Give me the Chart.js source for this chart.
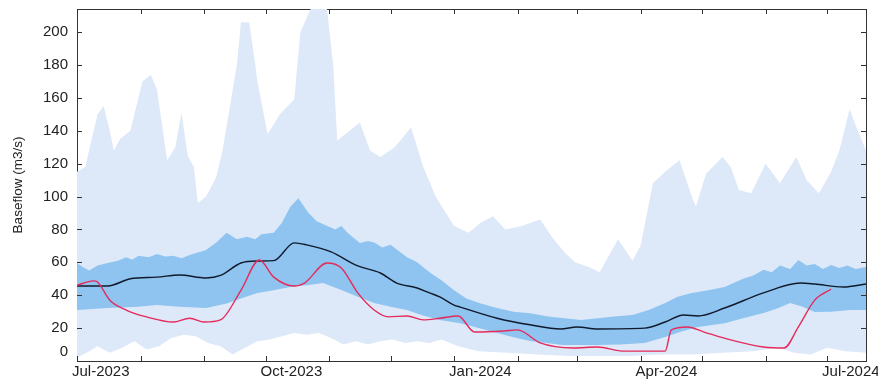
<!DOCTYPE html>
<html>
<head>
<meta charset="utf-8">
<script src="https://cdn.jsdelivr.net/npm/chart.js@4.4.1/dist/chart.umd.min.js"></script>
<style>
  body { margin: 0; background: #fff; }
  canvas { display: block; }
</style>
</head>
<body>
<canvas id="chart" width="878" height="381"></canvas>
<script>
// days counted from 1 Jul 2023
const monthDays = [0, 31, 62, 92, 123, 153, 184, 215, 244, 275, 305, 336, 366];
const monthLabels = { 0: "Jul-2023", 92: "Oct-2023", 184: "Jan-2024", 275: "Apr-2024", 366: "Jul-2024" };
const yTicks = [0, 20, 40, 60, 80, 100, 120, 140, 160, 180, 200];

// max envelope (light band top)
const maxDays = [0, 4, 10, 13, 16, 18, 21, 26, 32, 36, 39, 44, 48, 51, 54, 57, 59, 63, 68, 71, 74, 78, 80, 84, 87, 88, 93, 99, 106, 109, 114, 122, 125, 127, 133, 138, 143, 148, 155, 163, 169, 175, 184, 191, 197, 203, 209, 217, 226, 232, 238, 243, 250, 255, 260, 264, 271, 275, 281, 287, 294, 300, 302, 307, 315, 319, 323, 329, 336, 343, 351, 356, 362, 368, 372, 377, 381, 385];
const maxVals = [115, 118, 150, 155, 140, 128, 135, 140, 170, 174, 165, 122, 130, 151, 125, 118, 96, 100, 112, 128, 150, 180, 206, 206, 180, 170, 138, 150, 159, 200, 214, 214, 180, 134, 140, 145, 128, 124, 130, 142, 118, 100, 82, 78, 84, 88, 80, 82, 86, 75, 66, 60, 57, 54, 65, 74, 61, 70, 108, 115, 122, 100, 94, 114, 124, 118, 104, 102, 120, 108, 124, 110, 102, 115, 128, 153, 140, 128];

// upper quartile band edge
const p75Days = [0, 3, 6, 10, 15, 20, 24, 27, 30, 35, 39, 43, 47, 51, 55, 59, 63, 68, 73, 78, 83, 87, 90, 96, 100, 104, 108, 113, 117, 121, 126, 129, 132, 138, 142, 145, 149, 153, 161, 166, 172, 178, 184, 190, 197, 205, 213, 221, 230, 238, 246, 254, 262, 271, 279, 287, 293, 300, 308, 316, 325, 330, 335, 339, 343, 348, 352, 356, 360, 364, 368, 372, 376, 380, 385];
const p75Vals = [59.6, 57, 55, 58, 59.6, 61, 63, 61.5, 64, 63, 65, 63.5, 64, 62.5, 64.5, 66, 67.5, 72, 78, 74, 75.5, 74, 77, 78, 84, 93.7, 99, 90, 85, 82.7, 80, 82, 78, 71.8, 73, 72, 69, 70.6, 63, 60, 54, 49, 43, 38, 35, 32.2, 30, 29, 27, 26, 25, 26, 27, 28, 31, 35.3, 39, 41.4, 43, 45, 50, 52, 55.4, 54, 58, 56, 61.4, 58, 59, 56, 58.4, 56.5, 58, 56, 57.2];

// lower quartile band edge
const p25Days = [0, 15, 30, 39, 50, 63, 73, 80, 88, 96, 104, 112, 120, 129, 137, 145, 153, 161, 168, 177, 187, 196, 205, 213, 221, 229, 237, 245, 254, 265, 277, 287, 295, 303, 316, 325, 335, 342, 348, 354, 360, 368, 377, 385];
const p25Vals = [31, 32.2, 33, 34, 33, 32.2, 35, 38, 41.4, 43, 45, 46, 47.4, 43.2, 39, 35.3, 33, 31, 28, 25, 23, 20, 17, 14.5, 12.2, 11, 9.7, 9.7, 9.7, 10, 11, 14.6, 18, 20.7, 23, 26, 29.2, 32, 35.3, 33, 29.8, 30, 31, 31];

// min envelope (light band bottom)
const minDays = [0, 6, 10, 16, 22, 28, 34, 40, 46, 52, 58, 64, 70, 76, 82, 88, 94, 100, 106, 112, 118, 124, 130, 136, 142, 148, 154, 160, 166, 172, 178, 186, 196, 210, 225, 240, 255, 270, 285, 300, 315, 330, 342, 350, 358, 366, 375, 385];
const minVals = [2, 6, 9, 5, 8, 12, 7, 9, 14, 16, 15, 11, 9, 4, 8, 12, 13, 15, 17, 16, 17, 14, 10, 12, 10, 12, 13, 11, 12, 11, 13, 9, 6, 5, 4, 3, 3, 3, 4, 4, 5, 6, 8, 5, 4, 8, 6, 5];

// median
const medDays = [0, 15, 26, 39, 50, 63, 70, 80, 88, 96, 106, 112, 124, 137, 148, 156, 166, 172, 177, 184, 187, 205, 221, 236, 244, 254, 277, 287, 296, 303, 316, 335, 353, 360, 374, 385];
const medVals = [45.6, 45.6, 50, 51, 52.3, 50.5, 52, 59.6, 60.8, 61, 71.8, 70.6, 66.3, 57.8, 53.5, 47.4, 44.4, 41.4, 39, 34, 32.8, 26, 22, 19.5, 20.7, 19.5, 20, 23.7, 28, 27.4, 32.2, 41.4, 47.4, 46.8, 45, 46.8];

// current year
const curDays = [0, 8, 10, 16, 24, 34, 47, 55, 62, 70, 80, 89, 96, 106, 111, 122, 129, 137, 145, 152, 161, 169, 177, 186, 194, 208, 215, 226, 242, 254, 267, 287, 290, 298, 306, 319, 335, 345, 352, 360, 368];
const curVals = [46, 48.7, 48, 37, 31, 26.8, 23.7, 26, 23.7, 25, 43, 61.4, 51, 45.6, 47.4, 59.6, 56.6, 41.4, 31, 26.8, 27.4, 25, 26, 27.4, 17.6, 18.2, 18.9, 11, 7.9, 8.5, 6, 6, 18.9, 20.7, 17.6, 12.8, 8.5, 7.9, 20.7, 37, 43.8];

const pts = (xs, ys) => xs.map((x, i) => ({ x: x, y: ys[i] }));

const lightBlue = "#dde9f9";
const midBlue = "#8ec4ef";
const axisColor = "#333333";
const textColor = "#222222";
const fontFamily = "'Liberation Sans', Arial, sans-serif";
const tickFont = { family: fontFamily, size: 15 };

function band(data, color, order) {
    return { data: data, fill: "origin", backgroundColor: color, borderWidth: 0, pointRadius: 0, tension: 0, order: order };
}

// inward tick marks on all four sides, and the "0" label that sits above its tick
const frameTicks = {
    id: "frameTicks",
    afterDraw(chart) {
        const x = chart.scales.x;
        const y = chart.scales.y;
        const a = chart.chartArea;
        const ctx = chart.ctx;
        ctx.save();
        ctx.strokeStyle = axisColor;
        ctx.lineWidth = 1;
        ctx.beginPath();
        monthDays.forEach(d => {
            const px = Math.round(x.getPixelForValue(d)) + 0.5;
            ctx.moveTo(px, a.bottom);
            ctx.lineTo(px, a.bottom - 5);
            ctx.moveTo(px, a.top);
            ctx.lineTo(px, a.top + 5);
        });
        yTicks.forEach(v => {
            const py = Math.round(y.getPixelForValue(v)) + 0.5;
            ctx.moveTo(a.left, py);
            ctx.lineTo(a.left + 5, py);
            ctx.moveTo(a.right, py);
            ctx.lineTo(a.right - 5, py);
        });
        ctx.stroke();
        ctx.font = "15px " + fontFamily;
        ctx.fillStyle = textColor;
        ctx.textAlign = "right";
        ctx.textBaseline = "middle";
        ctx.fillText("0", y.right - 9, y.getPixelForValue(0) - 9);
        ctx.restore();
    }
};

const monthTicks = (scale) => { scale.ticks = monthDays.map(v => ({ value: v })); };
const valueTicks = (scale) => { scale.ticks = yTicks.map(v => ({ value: v })); };
const noGrid = { drawOnChartArea: false, drawTicks: false };
const frameBorder = { color: axisColor, width: 1 };

new Chart(document.getElementById("chart"), {
    type: "line",
    data: {
        datasets: [
            { data: pts(curDays, curVals), borderColor: "#e62a5a", borderWidth: 1.4, pointRadius: 0, fill: false, cubicInterpolationMode: "monotone", order: 0 },
            { data: pts(medDays, medVals), borderColor: "#111a2c", borderWidth: 1.4, pointRadius: 0, fill: false, cubicInterpolationMode: "monotone", order: 1 },
            band(pts(minDays, minVals), "#ffffff", 2),
            band(pts(p25Days, p25Vals), lightBlue, 3),
            band(pts(p75Days, p75Vals), midBlue, 4),
            band(pts(maxDays, maxVals), lightBlue, 5)
        ]
    },
    options: {
        responsive: false,
        animation: false,
        layout: { padding: 0, autoPadding: false },
        plugins: { legend: { display: false }, tooltip: { enabled: false } },
        scales: {
            x: {
                type: "linear", position: "bottom", min: 0, max: 385,
                afterBuildTicks: monthTicks,
                afterFit: (s) => { s.height = 20; s.paddingLeft = 0; s.paddingRight = 0; },
                ticks: {
                    autoSkip: false, maxRotation: 0, align: "start", labelOffset: -5, padding: 2,
                    color: textColor, font: tickFont,
                    callback: (v) => monthLabels[v] || ""
                },
                grid: noGrid,
                border: frameBorder
            },
            x2: {
                type: "linear", position: "top", min: 0, max: 385,
                afterBuildTicks: monthTicks,
                afterFit: (s) => { s.height = 9; },
                ticks: { display: false },
                grid: noGrid,
                border: frameBorder
            },
            y: {
                type: "linear", position: "left", min: 0, max: 214,
                afterBuildTicks: valueTicks,
                afterFit: (s) => { s.width = 77; s.paddingTop = 0; s.paddingBottom = 0; },
                ticks: {
                    padding: 9, color: textColor, font: tickFont,
                    callback: (v) => (v === 0 ? "" : v)
                },
                title: {
                    display: true, text: "Baseflow (m3/s)", color: textColor,
                    font: { family: fontFamily, size: 13.5 },
                    padding: { top: 10, bottom: 0 }
                },
                grid: noGrid,
                border: frameBorder
            },
            y2: {
                type: "linear", position: "right", min: 0, max: 214,
                afterBuildTicks: valueTicks,
                afterFit: (s) => { s.width = 12; },
                ticks: { display: false },
                grid: noGrid,
                border: frameBorder
            }
        }
    },
    plugins: [frameTicks]
});
</script>
</body>
</html>
